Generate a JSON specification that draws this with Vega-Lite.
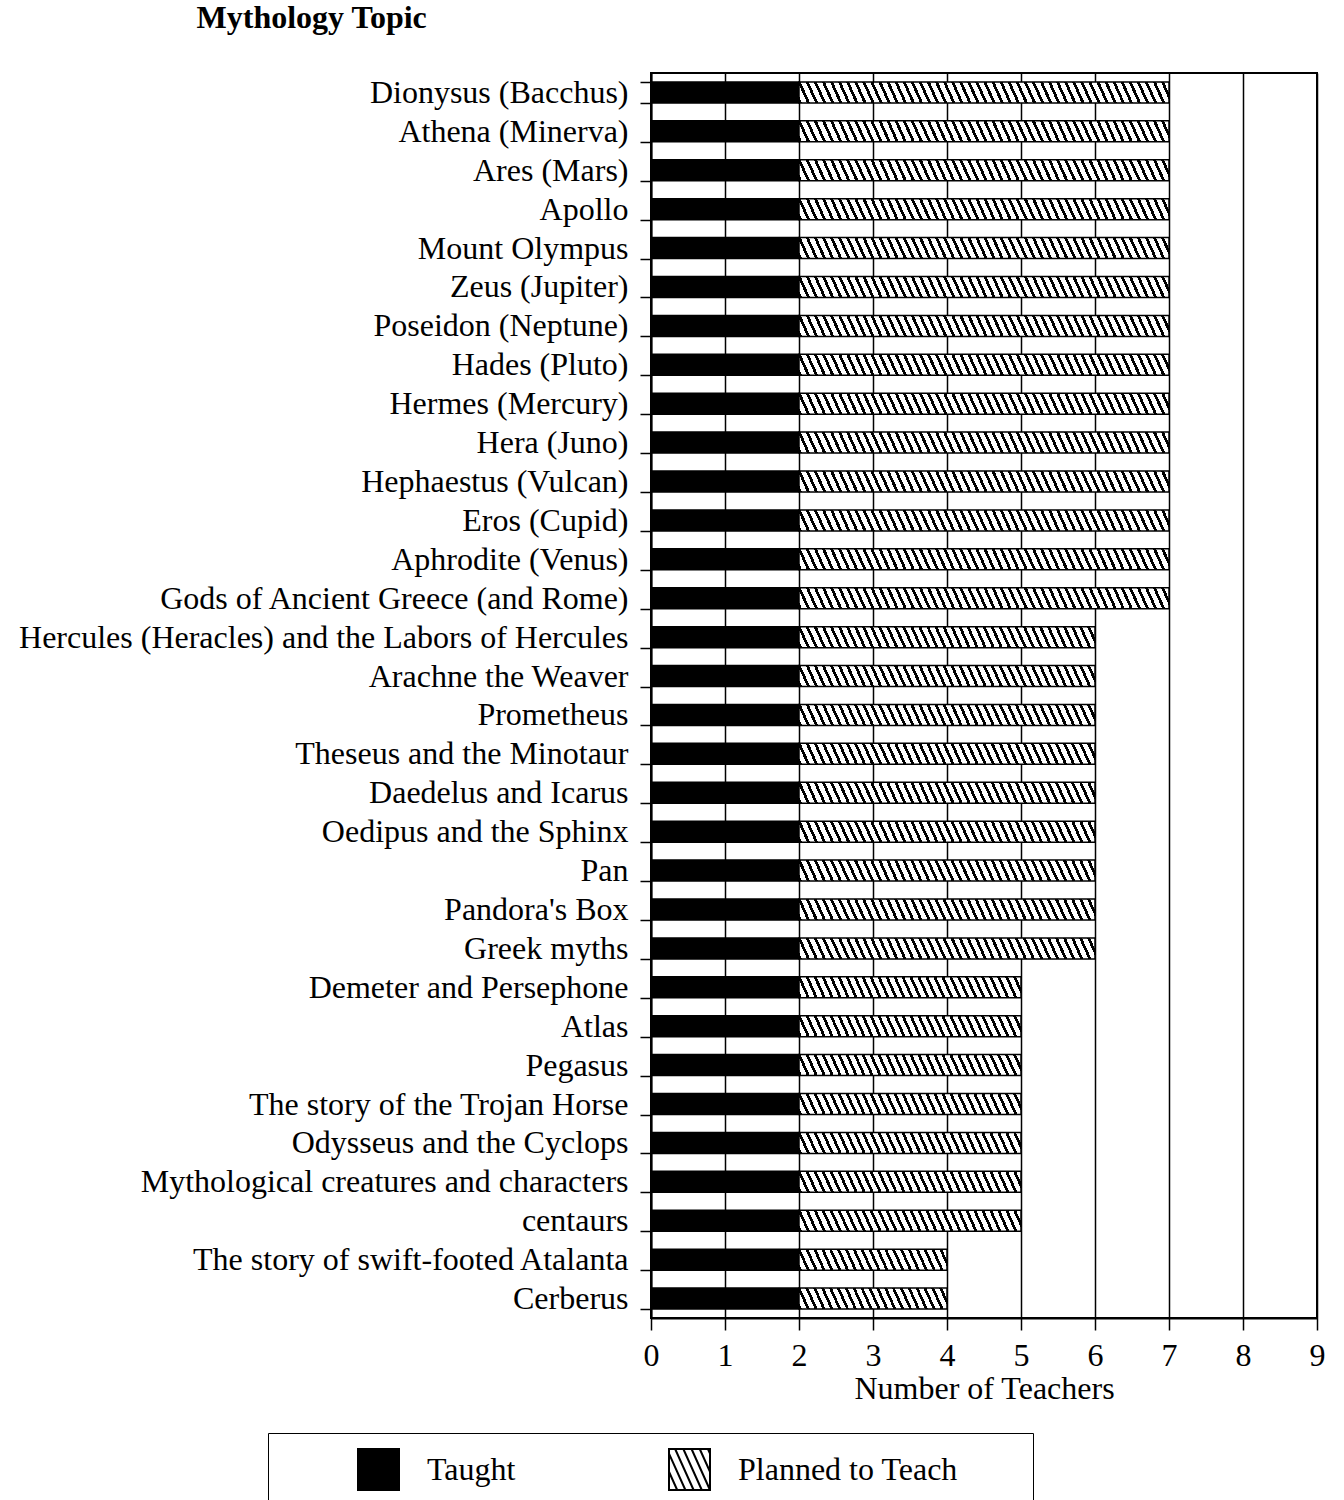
{
"$schema": "https://vega.github.io/schema/vega-lite/v6.json",
"padding": {"left": 18, "top": 2, "right": 20, "bottom": 5},
"width": 666,
"height": 1245,
"title": {"text": "Mythology Topic", "anchor": "start", "frame": "bounds", "font": "Liberation Serif", "fontSize": 32, "fontWeight": "bold", "color": "black", "dx": 178, "offset": 22},
"config": {"view": {"stroke": "black", "strokeWidth": 2}},
"data": {"values": [
{"topic": "Dionysus (Bacchus)", "Taught": 2, "Planned to Teach": 5},
{"topic": "Athena (Minerva)", "Taught": 2, "Planned to Teach": 5},
{"topic": "Ares (Mars)", "Taught": 2, "Planned to Teach": 5},
{"topic": "Apollo", "Taught": 2, "Planned to Teach": 5},
{"topic": "Mount Olympus", "Taught": 2, "Planned to Teach": 5},
{"topic": "Zeus (Jupiter)", "Taught": 2, "Planned to Teach": 5},
{"topic": "Poseidon (Neptune)", "Taught": 2, "Planned to Teach": 5},
{"topic": "Hades (Pluto)", "Taught": 2, "Planned to Teach": 5},
{"topic": "Hermes (Mercury)", "Taught": 2, "Planned to Teach": 5},
{"topic": "Hera (Juno)", "Taught": 2, "Planned to Teach": 5},
{"topic": "Hephaestus (Vulcan)", "Taught": 2, "Planned to Teach": 5},
{"topic": "Eros (Cupid)", "Taught": 2, "Planned to Teach": 5},
{"topic": "Aphrodite (Venus)", "Taught": 2, "Planned to Teach": 5},
{"topic": "Gods of Ancient Greece (and Rome)", "Taught": 2, "Planned to Teach": 5},
{"topic": "Hercules (Heracles) and the Labors of Hercules", "Taught": 2, "Planned to Teach": 4},
{"topic": "Arachne the Weaver", "Taught": 2, "Planned to Teach": 4},
{"topic": "Prometheus", "Taught": 2, "Planned to Teach": 4},
{"topic": "Theseus and the Minotaur", "Taught": 2, "Planned to Teach": 4},
{"topic": "Daedelus and Icarus", "Taught": 2, "Planned to Teach": 4},
{"topic": "Oedipus and the Sphinx", "Taught": 2, "Planned to Teach": 4},
{"topic": "Pan", "Taught": 2, "Planned to Teach": 4},
{"topic": "Pandora's Box", "Taught": 2, "Planned to Teach": 4},
{"topic": "Greek myths", "Taught": 2, "Planned to Teach": 4},
{"topic": "Demeter and Persephone", "Taught": 2, "Planned to Teach": 3},
{"topic": "Atlas", "Taught": 2, "Planned to Teach": 3},
{"topic": "Pegasus", "Taught": 2, "Planned to Teach": 3},
{"topic": "The story of the Trojan Horse", "Taught": 2, "Planned to Teach": 3},
{"topic": "Odysseus and the Cyclops", "Taught": 2, "Planned to Teach": 3},
{"topic": "Mythological creatures and characters", "Taught": 2, "Planned to Teach": 3},
{"topic": "centaurs", "Taught": 2, "Planned to Teach": 3},
{"topic": "The story of swift-footed Atalanta", "Taught": 2, "Planned to Teach": 2},
{"topic": "Cerberus", "Taught": 2, "Planned to Teach": 2}
]},
"transform": [{"fold": ["Taught", "Planned to Teach"], "as": ["series", "n"]}],
"encoding": {
"y": {"field": "topic", "type": "nominal", "sort": null,
 "scale": {"paddingInner": 0.46, "paddingOuter": 0.23},
 "axis": {"title": null, "tickBand": "extent", "tickSize": 11, "tickColor": "black", "tickWidth": 1.5, "domainColor": "black", "domainWidth": 2, "labelFont": "Liberation Serif", "labelFontSize": 32, "labelColor": "black", "labelPadding": 12, "labelLimit": 1000, "grid": false}},
"x": {"field": "n", "type": "quantitative", "stack": "zero",
 "scale": {"domain": [0, 9], "nice": false},
 "axis": {"values": [0,1,2,3,4,5,6,7,8,9], "title": "Number of Teachers", "grid": true, "gridColor": "black", "gridWidth": 1.5, "gridOpacity": 1, "tickColor": "black", "tickSize": 12, "tickWidth": 1.5, "domainColor": "black", "domainWidth": 2, "labelFont": "Liberation Serif", "labelFontSize": 32, "labelColor": "black", "labelPadding": 10, "labelFlush": false, "titleFont": "Liberation Serif", "titleFontSize": 32, "titleFontWeight": "normal", "titleColor": "black", "titlePadding": 2}},
"order": {"field": "series", "sort": "descending"}
},
"layer": [
{"mark": {"type": "bar", "stroke": "black", "strokeWidth": 1.5},
 "encoding": {"detail": {"field": "series"},
  "fill": {"condition": [
   {"test": "datum.series == 'Planned to Teach' && datum.n == 5", "value": {"gradient": "linear", "x1": 0, "y1": 1, "x2": 1.0249, "y2": 0.9738, "stops": [
{"offset":0,"color":"#000"},{"offset":0.008,"color":"#000"},{"offset":0.008,"color":"#fff"},{"offset":0.0213,"color":"#fff"},
{"offset":0.0213,"color":"#000"},{"offset":0.0293,"color":"#000"},{"offset":0.0293,"color":"#fff"},{"offset":0.0426,"color":"#fff"},
{"offset":0.0426,"color":"#000"},{"offset":0.0505,"color":"#000"},{"offset":0.0505,"color":"#fff"},{"offset":0.0638,"color":"#fff"},
{"offset":0.0638,"color":"#000"},{"offset":0.0718,"color":"#000"},{"offset":0.0718,"color":"#fff"},{"offset":0.0851,"color":"#fff"},
{"offset":0.0851,"color":"#000"},{"offset":0.0931,"color":"#000"},{"offset":0.0931,"color":"#fff"},{"offset":0.1064,"color":"#fff"},
{"offset":0.1064,"color":"#000"},{"offset":0.1144,"color":"#000"},{"offset":0.1144,"color":"#fff"},{"offset":0.1277,"color":"#fff"},
{"offset":0.1277,"color":"#000"},{"offset":0.1356,"color":"#000"},{"offset":0.1356,"color":"#fff"},{"offset":0.1489,"color":"#fff"},
{"offset":0.1489,"color":"#000"},{"offset":0.1569,"color":"#000"},{"offset":0.1569,"color":"#fff"},{"offset":0.1702,"color":"#fff"},
{"offset":0.1702,"color":"#000"},{"offset":0.1782,"color":"#000"},{"offset":0.1782,"color":"#fff"},{"offset":0.1915,"color":"#fff"},
{"offset":0.1915,"color":"#000"},{"offset":0.1995,"color":"#000"},{"offset":0.1995,"color":"#fff"},{"offset":0.2128,"color":"#fff"},
{"offset":0.2128,"color":"#000"},{"offset":0.2207,"color":"#000"},{"offset":0.2207,"color":"#fff"},{"offset":0.234,"color":"#fff"},
{"offset":0.234,"color":"#000"},{"offset":0.242,"color":"#000"},{"offset":0.242,"color":"#fff"},{"offset":0.2553,"color":"#fff"},
{"offset":0.2553,"color":"#000"},{"offset":0.2633,"color":"#000"},{"offset":0.2633,"color":"#fff"},{"offset":0.2766,"color":"#fff"},
{"offset":0.2766,"color":"#000"},{"offset":0.2846,"color":"#000"},{"offset":0.2846,"color":"#fff"},{"offset":0.2979,"color":"#fff"},
{"offset":0.2979,"color":"#000"},{"offset":0.3059,"color":"#000"},{"offset":0.3059,"color":"#fff"},{"offset":0.3191,"color":"#fff"},
{"offset":0.3191,"color":"#000"},{"offset":0.3271,"color":"#000"},{"offset":0.3271,"color":"#fff"},{"offset":0.3404,"color":"#fff"},
{"offset":0.3404,"color":"#000"},{"offset":0.3484,"color":"#000"},{"offset":0.3484,"color":"#fff"},{"offset":0.3617,"color":"#fff"},
{"offset":0.3617,"color":"#000"},{"offset":0.3697,"color":"#000"},{"offset":0.3697,"color":"#fff"},{"offset":0.383,"color":"#fff"},
{"offset":0.383,"color":"#000"},{"offset":0.391,"color":"#000"},{"offset":0.391,"color":"#fff"},{"offset":0.4043,"color":"#fff"},
{"offset":0.4043,"color":"#000"},{"offset":0.4122,"color":"#000"},{"offset":0.4122,"color":"#fff"},{"offset":0.4255,"color":"#fff"},
{"offset":0.4255,"color":"#000"},{"offset":0.4335,"color":"#000"},{"offset":0.4335,"color":"#fff"},{"offset":0.4468,"color":"#fff"},
{"offset":0.4468,"color":"#000"},{"offset":0.4548,"color":"#000"},{"offset":0.4548,"color":"#fff"},{"offset":0.4681,"color":"#fff"},
{"offset":0.4681,"color":"#000"},{"offset":0.4761,"color":"#000"},{"offset":0.4761,"color":"#fff"},{"offset":0.4894,"color":"#fff"},
{"offset":0.4894,"color":"#000"},{"offset":0.4973,"color":"#000"},{"offset":0.4973,"color":"#fff"},{"offset":0.5106,"color":"#fff"},
{"offset":0.5106,"color":"#000"},{"offset":0.5186,"color":"#000"},{"offset":0.5186,"color":"#fff"},{"offset":0.5319,"color":"#fff"},
{"offset":0.5319,"color":"#000"},{"offset":0.5399,"color":"#000"},{"offset":0.5399,"color":"#fff"},{"offset":0.5532,"color":"#fff"},
{"offset":0.5532,"color":"#000"},{"offset":0.5612,"color":"#000"},{"offset":0.5612,"color":"#fff"},{"offset":0.5745,"color":"#fff"},
{"offset":0.5745,"color":"#000"},{"offset":0.5824,"color":"#000"},{"offset":0.5824,"color":"#fff"},{"offset":0.5957,"color":"#fff"},
{"offset":0.5957,"color":"#000"},{"offset":0.6037,"color":"#000"},{"offset":0.6037,"color":"#fff"},{"offset":0.617,"color":"#fff"},
{"offset":0.617,"color":"#000"},{"offset":0.625,"color":"#000"},{"offset":0.625,"color":"#fff"},{"offset":0.6383,"color":"#fff"},
{"offset":0.6383,"color":"#000"},{"offset":0.6463,"color":"#000"},{"offset":0.6463,"color":"#fff"},{"offset":0.6596,"color":"#fff"},
{"offset":0.6596,"color":"#000"},{"offset":0.6676,"color":"#000"},{"offset":0.6676,"color":"#fff"},{"offset":0.6809,"color":"#fff"},
{"offset":0.6809,"color":"#000"},{"offset":0.6888,"color":"#000"},{"offset":0.6888,"color":"#fff"},{"offset":0.7021,"color":"#fff"},
{"offset":0.7021,"color":"#000"},{"offset":0.7101,"color":"#000"},{"offset":0.7101,"color":"#fff"},{"offset":0.7234,"color":"#fff"},
{"offset":0.7234,"color":"#000"},{"offset":0.7314,"color":"#000"},{"offset":0.7314,"color":"#fff"},{"offset":0.7447,"color":"#fff"},
{"offset":0.7447,"color":"#000"},{"offset":0.7527,"color":"#000"},{"offset":0.7527,"color":"#fff"},{"offset":0.766,"color":"#fff"},
{"offset":0.766,"color":"#000"},{"offset":0.7739,"color":"#000"},{"offset":0.7739,"color":"#fff"},{"offset":0.7872,"color":"#fff"},
{"offset":0.7872,"color":"#000"},{"offset":0.7952,"color":"#000"},{"offset":0.7952,"color":"#fff"},{"offset":0.8085,"color":"#fff"},
{"offset":0.8085,"color":"#000"},{"offset":0.8165,"color":"#000"},{"offset":0.8165,"color":"#fff"},{"offset":0.8298,"color":"#fff"},
{"offset":0.8298,"color":"#000"},{"offset":0.8378,"color":"#000"},{"offset":0.8378,"color":"#fff"},{"offset":0.8511,"color":"#fff"},
{"offset":0.8511,"color":"#000"},{"offset":0.859,"color":"#000"},{"offset":0.859,"color":"#fff"},{"offset":0.8723,"color":"#fff"},
{"offset":0.8723,"color":"#000"},{"offset":0.8803,"color":"#000"},{"offset":0.8803,"color":"#fff"},{"offset":0.8936,"color":"#fff"},
{"offset":0.8936,"color":"#000"},{"offset":0.9016,"color":"#000"},{"offset":0.9016,"color":"#fff"},{"offset":0.9149,"color":"#fff"},
{"offset":0.9149,"color":"#000"},{"offset":0.9229,"color":"#000"},{"offset":0.9229,"color":"#fff"},{"offset":0.9362,"color":"#fff"},
{"offset":0.9362,"color":"#000"},{"offset":0.9441,"color":"#000"},{"offset":0.9441,"color":"#fff"},{"offset":0.9574,"color":"#fff"},
{"offset":0.9574,"color":"#000"},{"offset":0.9654,"color":"#000"},{"offset":0.9654,"color":"#fff"},{"offset":0.9787,"color":"#fff"},
{"offset":0.9787,"color":"#000"},{"offset":0.9867,"color":"#000"},{"offset":0.9867,"color":"#fff"},{"offset":1,"color":"#fff"}
   ]}},
   {"test": "datum.series == 'Planned to Teach' && datum.n == 4", "value": {"gradient": "linear", "x1": 0, "y1": 1, "x2": 1.0309, "y2": 0.9671, "stops": [
{"offset":0,"color":"#000"},{"offset":0.0099,"color":"#000"},{"offset":0.0099,"color":"#fff"},{"offset":0.0263,"color":"#fff"},
{"offset":0.0263,"color":"#000"},{"offset":0.0362,"color":"#000"},{"offset":0.0362,"color":"#fff"},{"offset":0.0526,"color":"#fff"},
{"offset":0.0526,"color":"#000"},{"offset":0.0625,"color":"#000"},{"offset":0.0625,"color":"#fff"},{"offset":0.0789,"color":"#fff"},
{"offset":0.0789,"color":"#000"},{"offset":0.0888,"color":"#000"},{"offset":0.0888,"color":"#fff"},{"offset":0.1053,"color":"#fff"},
{"offset":0.1053,"color":"#000"},{"offset":0.1151,"color":"#000"},{"offset":0.1151,"color":"#fff"},{"offset":0.1316,"color":"#fff"},
{"offset":0.1316,"color":"#000"},{"offset":0.1414,"color":"#000"},{"offset":0.1414,"color":"#fff"},{"offset":0.1579,"color":"#fff"},
{"offset":0.1579,"color":"#000"},{"offset":0.1678,"color":"#000"},{"offset":0.1678,"color":"#fff"},{"offset":0.1842,"color":"#fff"},
{"offset":0.1842,"color":"#000"},{"offset":0.1941,"color":"#000"},{"offset":0.1941,"color":"#fff"},{"offset":0.2105,"color":"#fff"},
{"offset":0.2105,"color":"#000"},{"offset":0.2204,"color":"#000"},{"offset":0.2204,"color":"#fff"},{"offset":0.2368,"color":"#fff"},
{"offset":0.2368,"color":"#000"},{"offset":0.2467,"color":"#000"},{"offset":0.2467,"color":"#fff"},{"offset":0.2632,"color":"#fff"},
{"offset":0.2632,"color":"#000"},{"offset":0.273,"color":"#000"},{"offset":0.273,"color":"#fff"},{"offset":0.2895,"color":"#fff"},
{"offset":0.2895,"color":"#000"},{"offset":0.2993,"color":"#000"},{"offset":0.2993,"color":"#fff"},{"offset":0.3158,"color":"#fff"},
{"offset":0.3158,"color":"#000"},{"offset":0.3257,"color":"#000"},{"offset":0.3257,"color":"#fff"},{"offset":0.3421,"color":"#fff"},
{"offset":0.3421,"color":"#000"},{"offset":0.352,"color":"#000"},{"offset":0.352,"color":"#fff"},{"offset":0.3684,"color":"#fff"},
{"offset":0.3684,"color":"#000"},{"offset":0.3783,"color":"#000"},{"offset":0.3783,"color":"#fff"},{"offset":0.3947,"color":"#fff"},
{"offset":0.3947,"color":"#000"},{"offset":0.4046,"color":"#000"},{"offset":0.4046,"color":"#fff"},{"offset":0.4211,"color":"#fff"},
{"offset":0.4211,"color":"#000"},{"offset":0.4309,"color":"#000"},{"offset":0.4309,"color":"#fff"},{"offset":0.4474,"color":"#fff"},
{"offset":0.4474,"color":"#000"},{"offset":0.4572,"color":"#000"},{"offset":0.4572,"color":"#fff"},{"offset":0.4737,"color":"#fff"},
{"offset":0.4737,"color":"#000"},{"offset":0.4836,"color":"#000"},{"offset":0.4836,"color":"#fff"},{"offset":0.5,"color":"#fff"},
{"offset":0.5,"color":"#000"},{"offset":0.5099,"color":"#000"},{"offset":0.5099,"color":"#fff"},{"offset":0.5263,"color":"#fff"},
{"offset":0.5263,"color":"#000"},{"offset":0.5362,"color":"#000"},{"offset":0.5362,"color":"#fff"},{"offset":0.5526,"color":"#fff"},
{"offset":0.5526,"color":"#000"},{"offset":0.5625,"color":"#000"},{"offset":0.5625,"color":"#fff"},{"offset":0.5789,"color":"#fff"},
{"offset":0.5789,"color":"#000"},{"offset":0.5888,"color":"#000"},{"offset":0.5888,"color":"#fff"},{"offset":0.6053,"color":"#fff"},
{"offset":0.6053,"color":"#000"},{"offset":0.6151,"color":"#000"},{"offset":0.6151,"color":"#fff"},{"offset":0.6316,"color":"#fff"},
{"offset":0.6316,"color":"#000"},{"offset":0.6414,"color":"#000"},{"offset":0.6414,"color":"#fff"},{"offset":0.6579,"color":"#fff"},
{"offset":0.6579,"color":"#000"},{"offset":0.6678,"color":"#000"},{"offset":0.6678,"color":"#fff"},{"offset":0.6842,"color":"#fff"},
{"offset":0.6842,"color":"#000"},{"offset":0.6941,"color":"#000"},{"offset":0.6941,"color":"#fff"},{"offset":0.7105,"color":"#fff"},
{"offset":0.7105,"color":"#000"},{"offset":0.7204,"color":"#000"},{"offset":0.7204,"color":"#fff"},{"offset":0.7368,"color":"#fff"},
{"offset":0.7368,"color":"#000"},{"offset":0.7467,"color":"#000"},{"offset":0.7467,"color":"#fff"},{"offset":0.7632,"color":"#fff"},
{"offset":0.7632,"color":"#000"},{"offset":0.773,"color":"#000"},{"offset":0.773,"color":"#fff"},{"offset":0.7895,"color":"#fff"},
{"offset":0.7895,"color":"#000"},{"offset":0.7993,"color":"#000"},{"offset":0.7993,"color":"#fff"},{"offset":0.8158,"color":"#fff"},
{"offset":0.8158,"color":"#000"},{"offset":0.8257,"color":"#000"},{"offset":0.8257,"color":"#fff"},{"offset":0.8421,"color":"#fff"},
{"offset":0.8421,"color":"#000"},{"offset":0.852,"color":"#000"},{"offset":0.852,"color":"#fff"},{"offset":0.8684,"color":"#fff"},
{"offset":0.8684,"color":"#000"},{"offset":0.8783,"color":"#000"},{"offset":0.8783,"color":"#fff"},{"offset":0.8947,"color":"#fff"},
{"offset":0.8947,"color":"#000"},{"offset":0.9046,"color":"#000"},{"offset":0.9046,"color":"#fff"},{"offset":0.9211,"color":"#fff"},
{"offset":0.9211,"color":"#000"},{"offset":0.9309,"color":"#000"},{"offset":0.9309,"color":"#fff"},{"offset":0.9474,"color":"#fff"},
{"offset":0.9474,"color":"#000"},{"offset":0.9572,"color":"#000"},{"offset":0.9572,"color":"#fff"},{"offset":0.9737,"color":"#fff"},
{"offset":0.9737,"color":"#000"},{"offset":0.9836,"color":"#000"},{"offset":0.9836,"color":"#fff"},{"offset":1,"color":"#fff"}
   ]}},
   {"test": "datum.series == 'Planned to Teach' && datum.n == 3", "value": {"gradient": "linear", "x1": 0, "y1": 1, "x2": 1.0407, "y2": 0.9557, "stops": [
{"offset":0,"color":"#000"},{"offset":0.0129,"color":"#000"},{"offset":0.0129,"color":"#fff"},{"offset":0.0345,"color":"#fff"},
{"offset":0.0345,"color":"#000"},{"offset":0.0474,"color":"#000"},{"offset":0.0474,"color":"#fff"},{"offset":0.069,"color":"#fff"},
{"offset":0.069,"color":"#000"},{"offset":0.0819,"color":"#000"},{"offset":0.0819,"color":"#fff"},{"offset":0.1034,"color":"#fff"},
{"offset":0.1034,"color":"#000"},{"offset":0.1164,"color":"#000"},{"offset":0.1164,"color":"#fff"},{"offset":0.1379,"color":"#fff"},
{"offset":0.1379,"color":"#000"},{"offset":0.1509,"color":"#000"},{"offset":0.1509,"color":"#fff"},{"offset":0.1724,"color":"#fff"},
{"offset":0.1724,"color":"#000"},{"offset":0.1853,"color":"#000"},{"offset":0.1853,"color":"#fff"},{"offset":0.2069,"color":"#fff"},
{"offset":0.2069,"color":"#000"},{"offset":0.2198,"color":"#000"},{"offset":0.2198,"color":"#fff"},{"offset":0.2414,"color":"#fff"},
{"offset":0.2414,"color":"#000"},{"offset":0.2543,"color":"#000"},{"offset":0.2543,"color":"#fff"},{"offset":0.2759,"color":"#fff"},
{"offset":0.2759,"color":"#000"},{"offset":0.2888,"color":"#000"},{"offset":0.2888,"color":"#fff"},{"offset":0.3103,"color":"#fff"},
{"offset":0.3103,"color":"#000"},{"offset":0.3233,"color":"#000"},{"offset":0.3233,"color":"#fff"},{"offset":0.3448,"color":"#fff"},
{"offset":0.3448,"color":"#000"},{"offset":0.3578,"color":"#000"},{"offset":0.3578,"color":"#fff"},{"offset":0.3793,"color":"#fff"},
{"offset":0.3793,"color":"#000"},{"offset":0.3922,"color":"#000"},{"offset":0.3922,"color":"#fff"},{"offset":0.4138,"color":"#fff"},
{"offset":0.4138,"color":"#000"},{"offset":0.4267,"color":"#000"},{"offset":0.4267,"color":"#fff"},{"offset":0.4483,"color":"#fff"},
{"offset":0.4483,"color":"#000"},{"offset":0.4612,"color":"#000"},{"offset":0.4612,"color":"#fff"},{"offset":0.4828,"color":"#fff"},
{"offset":0.4828,"color":"#000"},{"offset":0.4957,"color":"#000"},{"offset":0.4957,"color":"#fff"},{"offset":0.5172,"color":"#fff"},
{"offset":0.5172,"color":"#000"},{"offset":0.5302,"color":"#000"},{"offset":0.5302,"color":"#fff"},{"offset":0.5517,"color":"#fff"},
{"offset":0.5517,"color":"#000"},{"offset":0.5647,"color":"#000"},{"offset":0.5647,"color":"#fff"},{"offset":0.5862,"color":"#fff"},
{"offset":0.5862,"color":"#000"},{"offset":0.5991,"color":"#000"},{"offset":0.5991,"color":"#fff"},{"offset":0.6207,"color":"#fff"},
{"offset":0.6207,"color":"#000"},{"offset":0.6336,"color":"#000"},{"offset":0.6336,"color":"#fff"},{"offset":0.6552,"color":"#fff"},
{"offset":0.6552,"color":"#000"},{"offset":0.6681,"color":"#000"},{"offset":0.6681,"color":"#fff"},{"offset":0.6897,"color":"#fff"},
{"offset":0.6897,"color":"#000"},{"offset":0.7026,"color":"#000"},{"offset":0.7026,"color":"#fff"},{"offset":0.7241,"color":"#fff"},
{"offset":0.7241,"color":"#000"},{"offset":0.7371,"color":"#000"},{"offset":0.7371,"color":"#fff"},{"offset":0.7586,"color":"#fff"},
{"offset":0.7586,"color":"#000"},{"offset":0.7716,"color":"#000"},{"offset":0.7716,"color":"#fff"},{"offset":0.7931,"color":"#fff"},
{"offset":0.7931,"color":"#000"},{"offset":0.806,"color":"#000"},{"offset":0.806,"color":"#fff"},{"offset":0.8276,"color":"#fff"},
{"offset":0.8276,"color":"#000"},{"offset":0.8405,"color":"#000"},{"offset":0.8405,"color":"#fff"},{"offset":0.8621,"color":"#fff"},
{"offset":0.8621,"color":"#000"},{"offset":0.875,"color":"#000"},{"offset":0.875,"color":"#fff"},{"offset":0.8966,"color":"#fff"},
{"offset":0.8966,"color":"#000"},{"offset":0.9095,"color":"#000"},{"offset":0.9095,"color":"#fff"},{"offset":0.931,"color":"#fff"},
{"offset":0.931,"color":"#000"},{"offset":0.944,"color":"#000"},{"offset":0.944,"color":"#fff"},{"offset":0.9655,"color":"#fff"},
{"offset":0.9655,"color":"#000"},{"offset":0.9784,"color":"#000"},{"offset":0.9784,"color":"#fff"},{"offset":1,"color":"#fff"}
   ]}},
   {"test": "datum.series == 'Planned to Teach' && datum.n == 2", "value": {"gradient": "linear", "x1": 0, "y1": 1, "x2": 1.0595, "y2": 0.9323, "stops": [
{"offset":0,"color":"#000"},{"offset":0.0188,"color":"#000"},{"offset":0.0188,"color":"#fff"},{"offset":0.05,"color":"#fff"},
{"offset":0.05,"color":"#000"},{"offset":0.0688,"color":"#000"},{"offset":0.0688,"color":"#fff"},{"offset":0.1,"color":"#fff"},
{"offset":0.1,"color":"#000"},{"offset":0.1188,"color":"#000"},{"offset":0.1188,"color":"#fff"},{"offset":0.15,"color":"#fff"},
{"offset":0.15,"color":"#000"},{"offset":0.1688,"color":"#000"},{"offset":0.1688,"color":"#fff"},{"offset":0.2,"color":"#fff"},
{"offset":0.2,"color":"#000"},{"offset":0.2188,"color":"#000"},{"offset":0.2188,"color":"#fff"},{"offset":0.25,"color":"#fff"},
{"offset":0.25,"color":"#000"},{"offset":0.2688,"color":"#000"},{"offset":0.2688,"color":"#fff"},{"offset":0.3,"color":"#fff"},
{"offset":0.3,"color":"#000"},{"offset":0.3188,"color":"#000"},{"offset":0.3188,"color":"#fff"},{"offset":0.35,"color":"#fff"},
{"offset":0.35,"color":"#000"},{"offset":0.3688,"color":"#000"},{"offset":0.3688,"color":"#fff"},{"offset":0.4,"color":"#fff"},
{"offset":0.4,"color":"#000"},{"offset":0.4188,"color":"#000"},{"offset":0.4188,"color":"#fff"},{"offset":0.45,"color":"#fff"},
{"offset":0.45,"color":"#000"},{"offset":0.4688,"color":"#000"},{"offset":0.4688,"color":"#fff"},{"offset":0.5,"color":"#fff"},
{"offset":0.5,"color":"#000"},{"offset":0.5188,"color":"#000"},{"offset":0.5188,"color":"#fff"},{"offset":0.55,"color":"#fff"},
{"offset":0.55,"color":"#000"},{"offset":0.5688,"color":"#000"},{"offset":0.5688,"color":"#fff"},{"offset":0.6,"color":"#fff"},
{"offset":0.6,"color":"#000"},{"offset":0.6188,"color":"#000"},{"offset":0.6188,"color":"#fff"},{"offset":0.65,"color":"#fff"},
{"offset":0.65,"color":"#000"},{"offset":0.6688,"color":"#000"},{"offset":0.6688,"color":"#fff"},{"offset":0.7,"color":"#fff"},
{"offset":0.7,"color":"#000"},{"offset":0.7188,"color":"#000"},{"offset":0.7188,"color":"#fff"},{"offset":0.75,"color":"#fff"},
{"offset":0.75,"color":"#000"},{"offset":0.7688,"color":"#000"},{"offset":0.7688,"color":"#fff"},{"offset":0.8,"color":"#fff"},
{"offset":0.8,"color":"#000"},{"offset":0.8188,"color":"#000"},{"offset":0.8188,"color":"#fff"},{"offset":0.85,"color":"#fff"},
{"offset":0.85,"color":"#000"},{"offset":0.8688,"color":"#000"},{"offset":0.8688,"color":"#fff"},{"offset":0.9,"color":"#fff"},
{"offset":0.9,"color":"#000"},{"offset":0.9188,"color":"#000"},{"offset":0.9188,"color":"#fff"},{"offset":0.95,"color":"#fff"},
{"offset":0.95,"color":"#000"},{"offset":0.9688,"color":"#000"},{"offset":0.9688,"color":"#fff"},{"offset":1,"color":"#fff"}
   ]}}
  ], "value": "black"}}},
{"mark": {"type": "point", "filled": true, "size": 0, "opacity": 1, "stroke": "black", "strokeWidth": 2},
 "encoding": {
  "color": {"field": "series", "type": "nominal",
   "scale": {"domain": ["Taught", "Planned to Teach"], "range": ["black", "white"]},
   "legend": {"orient": "none", "legendX": -383, "legendY": 1360, "direction": "horizontal", "title": " ", "titleOrient": "right", "titlePadding": 60, "titleFontSize": 32, "symbolSize": 1681, "symbolStrokeColor": "black", "symbolStrokeWidth": 2, "symbolOpacity": 1, "labelFont": "Liberation Serif", "labelFontSize": 32, "labelColor": "black", "labelOffset": 27, "labelLimit": 500, "columnPadding": 78, "padding": 15, "strokeColor": "black", "symbolOffset": 74}},
  "shape": {"field": "series", "type": "nominal",
   "scale": {"domain": ["Taught", "Planned to Teach"], "range": ["square", "M-1,-1H1V1H-1Z M-1,0.111L-0.6,1 M-1,-0.778L-0.2,1 M-0.7,-1L0.2,1 M-0.3,-1L0.6,1 M0.1,-1L1,1 M0.5,-1L1,0.111 M0.9,-1L1,-0.778"]}}
 }}
]
}
